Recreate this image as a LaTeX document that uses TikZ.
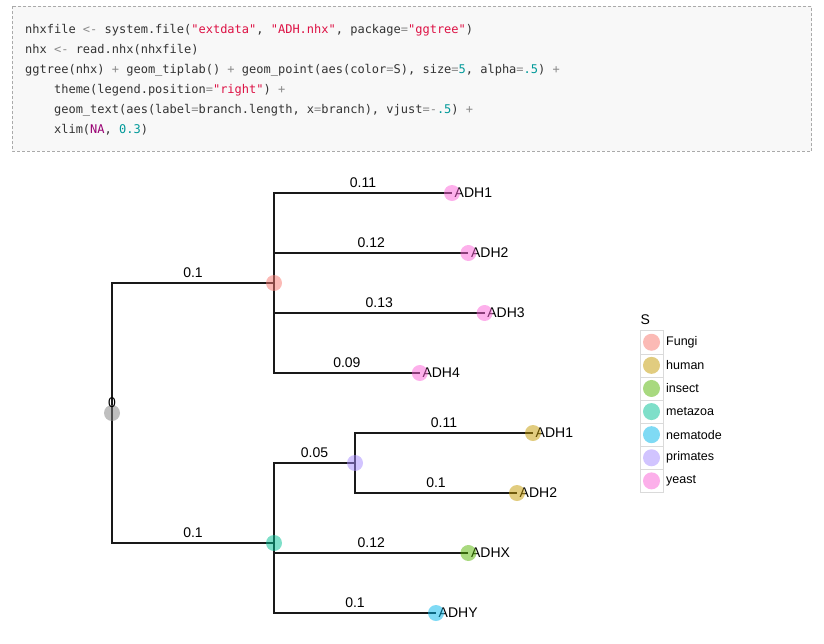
\documentclass[tikz,border=0pt]{standalone}
\usepackage{fontspec}
\setmainfont{Liberation Sans}
\newfontfamily\codefont{DejaVu Sans Mono}
\usetikzlibrary{calc}
\definecolor{codebg}{HTML}{F8F8F8}
\definecolor{codeborder}{HTML}{AAAAAA}
\definecolor{codetext}{HTML}{333333}
\definecolor{cstr}{HTML}{DD1144}
\definecolor{cnum}{HTML}{009999}
\definecolor{cna}{HTML}{990073}
\definecolor{cop}{HTML}{8A8A8A}
\definecolor{cF}{HTML}{F8766D}
\definecolor{cH}{HTML}{C49A00}
\definecolor{cI}{HTML}{53B400}
\definecolor{cM}{HTML}{00C094}
\definecolor{cN}{HTML}{00B6EB}
\definecolor{cP}{HTML}{A58AFF}
\definecolor{cY}{HTML}{FB61D7}
\definecolor{cR}{HTML}{7F7F7F}
\definecolor{keyborder}{HTML}{DADADA}
\newcommand\rstr[1]{\textcolor{cstr}{#1}}
\newcommand\rnum[1]{\textcolor{cnum}{#1}}
\newcommand\rna[1]{\textcolor{cna}{#1}}
\newcommand\rop[1]{\textcolor{cop}{#1}}
\begin{document}
\begin{tikzpicture}[x=1pt,y=-1pt,
  codeline/.style={anchor=base west,inner sep=0pt,text=codetext,font=\codefont\fontsize{12}{14}\selectfont},
  edge/.style={line width=1.2pt,draw=black!90},
  blen/.style={anchor=base,inner sep=0pt,yshift=6pt,font=\fontsize{14}{16}\selectfont},
  tiplab/.style={anchor=west,inner sep=0pt,xshift=2.5pt,font=\fontsize{14}{16}\selectfont},
  pt/.style={fill=#1,fill opacity=0.5},
  keybox/.style={draw=keyborder,fill=white,line width=0.6pt},
  keylab/.style={anchor=west,inner sep=0pt,font=\fontsize{12.5}{14}\selectfont}
]
\useasboundingbox (0,0) rectangle (824,643);
% code block
\draw[fill=codebg,draw=codeborder,line width=0.7pt,dash pattern=on 3pt off 2pt] (12,6) rectangle (811.5,151);
\node[codeline] (l1) at (25,33) {nhxfile \rop{<-} system.file(\rstr{"extdata"}, \rstr{"ADH.nhx"}, package\rop{=}\rstr{"ggtree"})};
\node[codeline] (l2) at (25,53) {nhx \rop{<-} read.nhx(nhxfile)};
\node[codeline] (l3) at (25,73) {ggtree(nhx) \rop{+} geom\_tiplab() \rop{+} geom\_point(aes(color\rop{=}S), size\rop{=}\rnum{5}, alpha\rop{=}\rnum{.5}) \rop{+}};
\node[codeline] (l4) at (53.9,93) {theme(legend.position\rop{=}\rstr{"right"}) \rop{+}};
\node[codeline] (l5) at (53.9,113) {geom\_text(aes(label\rop{=}branch.length, x\rop{=}branch), vjust\rop{=-}\rnum{.5}) \rop{+}};
\node[codeline] (l6) at (53.9,133) {xlim(\rna{NA}, \rnum{0.3})};
% tree nodes
\coordinate (root) at (112,413);
\coordinate (fungi) at (274,283);
\coordinate (a1) at (452,193);
\coordinate (a2) at (468.4,253);
\coordinate (a3) at (484.6,313);
\coordinate (a4) at (419.8,373);
\coordinate (meta) at (274,543);
\coordinate (prim) at (355,463);
\coordinate (h1) at (533,433);
\coordinate (h2) at (517,493);
\coordinate (hx) at (468.4,553);
\coordinate (hy) at (436,613);
% edges with branch lengths
\draw[edge] (root) |- node[pos=0.75,blen]{0.1} (fungi);
\draw[edge] (root) |- node[pos=0.75,blen]{0.1} (meta);
\draw[edge] (fungi) |- node[pos=0.75,blen]{0.11} (a1);
\draw[edge] (fungi) |- node[pos=0.75,blen]{0.12} (a2);
\draw[edge] (fungi) |- node[pos=0.75,blen]{0.13} (a3);
\draw[edge] (fungi) |- node[pos=0.75,blen]{0.09} (a4);
\draw[edge] (meta) |- node[pos=0.75,blen]{0.05} (prim);
\draw[edge] (meta) |- node[pos=0.75,blen]{0.12} (hx);
\draw[edge] (meta) |- node[pos=0.75,blen]{0.1} (hy);
\draw[edge] (prim) |- node[pos=0.75,blen]{0.11} (h1);
\draw[edge] (prim) |- node[pos=0.75,blen]{0.1} (h2);
% tip labels
\node[tiplab] (ta1) at (a1) {ADH1};
\node[tiplab] (ta2) at (a2) {ADH2};
\node[tiplab] (ta3) at (a3) {ADH3};
\node[tiplab] (ta4) at (a4) {ADH4};
\node[tiplab] (th1) at (h1) {ADH1};
\node[tiplab] (th2) at (h2) {ADH2};
\node[tiplab] (thx) at (hx) {ADHX};
\node[tiplab] (thy) at (hy) {ADHY};
% points
\fill[pt=cR] (root) circle[radius=8pt];
\fill[pt=cF] (fungi) circle[radius=8pt];
\fill[pt=cY] (a1) circle[radius=8pt];
\fill[pt=cY] (a2) circle[radius=8pt];
\fill[pt=cY] (a3) circle[radius=8pt];
\fill[pt=cY] (a4) circle[radius=8pt];
\fill[pt=cM] (meta) circle[radius=8pt];
\fill[pt=cP] (prim) circle[radius=8pt];
\fill[pt=cH] (h1) circle[radius=8pt];
\fill[pt=cH] (h2) circle[radius=8pt];
\fill[pt=cI] (hx) circle[radius=8pt];
\fill[pt=cN] (hy) circle[radius=8pt];
\node[blen] (rootlab) at (root) {0};
% legend
\node[anchor=base west,inner sep=0pt,font=\fontsize{14}{16}\selectfont] (legtitle) at (640.5,324) {S};
\foreach \lab/\col [count=\i from 0] in {Fungi/cF,human/cH,insect/cI,metazoa/cM,nematode/cN,primates/cP,yeast/cY}{
  \draw[keybox] (640,{330.7+23.1*\i}) rectangle (663,{353.8+23.1*\i});
  \fill[pt=\col] (651.5,{342.25+23.1*\i}) circle[radius=8.5pt];
  \node[keylab] (key\i) at (666,{342.25+23.1*\i}) {\lab};
}
\end{tikzpicture}
\end{document}
